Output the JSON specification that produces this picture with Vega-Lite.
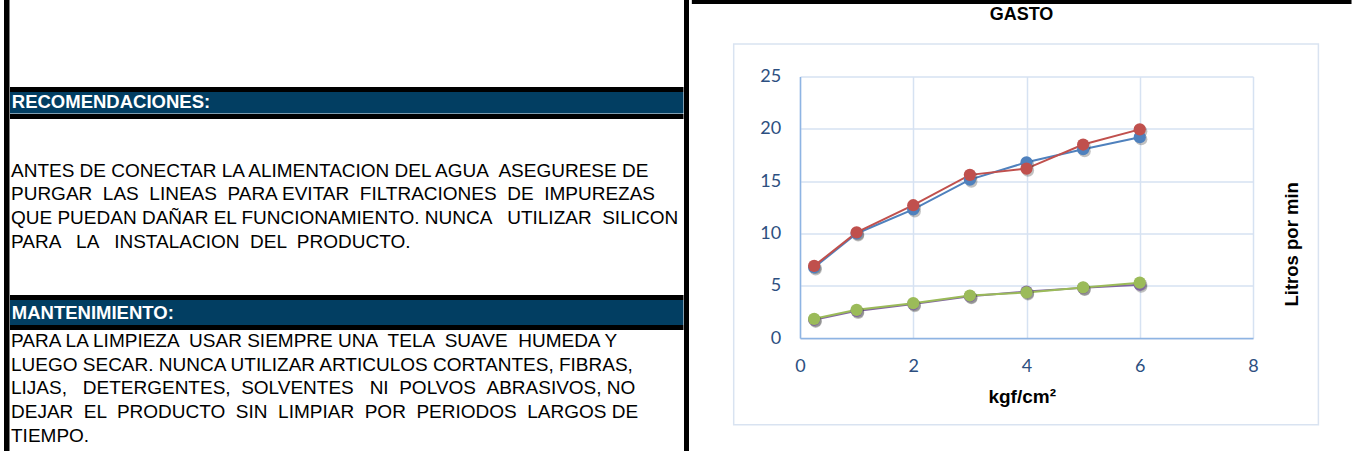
{
  "$schema": "https://vega.github.io/schema/vega-lite/v6.json",
  "background": "white",
  "padding": {"left": 4, "top": 0, "right": 0, "bottom": 0},
  "spacing": 0,
  "config": {
    "view": {"stroke": null},
    "font": "Liberation Sans",
    "axis": {
      "labelFont": "Lato",
      "labelFontSize": 18,
      "labelColor": "#2D4F80",
      "labelFlush": false,
      "titleFont": "Liberation Sans",
      "titleFontWeight": "bold",
      "titleColor": "#000000",
      "titleFontSize": 19,
      "ticks": false,
      "tickSize": 0,
      "domainColor": "#8EB4E3",
      "domainWidth": 1.5,
      "gridColor": "#D6E2F2",
      "gridWidth": 1.5
    }
  },
  "datasets": {
    "texto": [
      {"seccion": "H1", "linea": 1, "texto": "RECOMENDACIONES:"},
      {"seccion": "B", "linea": 1, "texto": "ANTES DE CONECTAR LA ALIMENTACION DEL AGUA \u00a0ASEGURESE DE"},
      {"seccion": "B", "linea": 2, "texto": "PURGAR \u00a0LAS \u00a0LINEAS \u00a0PARA EVITAR \u00a0FILTRACIONES \u00a0DE \u00a0IMPUREZAS"},
      {"seccion": "B", "linea": 3, "texto": "QUE PUEDAN DAÑAR EL FUNCIONAMIENTO. NUNCA \u00a0\u00a0UTILIZAR \u00a0SILICON"},
      {"seccion": "B", "linea": 4, "texto": "PARA \u00a0\u00a0LA \u00a0\u00a0INSTALACION \u00a0DEL \u00a0PRODUCTO."},
      {"seccion": "H2", "linea": 1, "texto": "MANTENIMIENTO:"},
      {"seccion": "C", "linea": 1, "texto": "PARA LA LIMPIEZA \u00a0USAR SIEMPRE UNA \u00a0TELA \u00a0SUAVE \u00a0HUMEDA Y"},
      {"seccion": "C", "linea": 2, "texto": "LUEGO SECAR. NUNCA UTILIZAR ARTICULOS CORTANTES, FIBRAS,"},
      {"seccion": "C", "linea": 3, "texto": "LIJAS, \u00a0\u00a0DETERGENTES, \u00a0SOLVENTES \u00a0\u00a0NI \u00a0POLVOS \u00a0ABRASIVOS, NO"},
      {"seccion": "C", "linea": 4, "texto": "DEJAR \u00a0EL \u00a0PRODUCTO \u00a0SIN \u00a0LIMPIAR \u00a0POR \u00a0PERIODOS \u00a0LARGOS DE"},
      {"seccion": "C", "linea": 5, "texto": "TIEMPO."}
    ],
    "gasto": [
      {"serie": "Serie 1", "presion": 0.25, "litros": 6.75},
      {"serie": "Serie 1", "presion": 1, "litros": 10.0},
      {"serie": "Serie 1", "presion": 2, "litros": 12.3},
      {"serie": "Serie 1", "presion": 3, "litros": 15.15},
      {"serie": "Serie 1", "presion": 4, "litros": 16.8},
      {"serie": "Serie 1", "presion": 5, "litros": 18.05},
      {"serie": "Serie 1", "presion": 6, "litros": 19.2},
      {"serie": "Serie 2", "presion": 0.25, "litros": 6.9},
      {"serie": "Serie 2", "presion": 1, "litros": 10.1},
      {"serie": "Serie 2", "presion": 2, "litros": 12.7},
      {"serie": "Serie 2", "presion": 3, "litros": 15.6},
      {"serie": "Serie 2", "presion": 4, "litros": 16.2},
      {"serie": "Serie 2", "presion": 5, "litros": 18.5},
      {"serie": "Serie 2", "presion": 6, "litros": 19.95},
      {"serie": "Serie 3", "presion": 0.25, "litros": 1.75},
      {"serie": "Serie 3", "presion": 1, "litros": 2.6},
      {"serie": "Serie 3", "presion": 2, "litros": 3.25},
      {"serie": "Serie 3", "presion": 3, "litros": 4.0},
      {"serie": "Serie 3", "presion": 4, "litros": 4.45},
      {"serie": "Serie 3", "presion": 5, "litros": 4.8},
      {"serie": "Serie 3", "presion": 6, "litros": 5.1},
      {"serie": "Serie 4", "presion": 0.25, "litros": 1.84},
      {"serie": "Serie 4", "presion": 1, "litros": 2.7},
      {"serie": "Serie 4", "presion": 2, "litros": 3.34},
      {"serie": "Serie 4", "presion": 3, "litros": 4.07},
      {"serie": "Serie 4", "presion": 4, "litros": 4.36},
      {"serie": "Serie 4", "presion": 5, "litros": 4.84},
      {"serie": "Serie 4", "presion": 6, "litros": 5.3}
    ]
  },
  "hconcat": [
    {
      "spacing": 0,
      "hconcat": [
        {
          "width": 5.5, "height": 451,
          "view": {"fill": "#000000"},
          "data": {"name": "texto"}, "transform": [{"filter": "datum.seccion === 'X'"}],
          "mark": {"type": "text"}, "encoding": {"text": {"field": "texto"}}
        },
        {
          "spacing": 0,
          "vconcat": [
            {
              "width": 673.5, "height": 87,
              "view": {"fill": "#FFFFFF"},
              "data": {"name": "texto"}, "transform": [{"filter": "datum.seccion === 'X'"}],
              "mark": {"type": "text"}, "encoding": {"text": {"field": "texto"}}
            },
            {
              "width": 673.5, "height": 5,
              "view": {"fill": "#000000"},
              "data": {"name": "texto"}, "transform": [{"filter": "datum.seccion === 'X'"}],
              "mark": {"type": "text"}, "encoding": {"text": {"field": "texto"}}
            },
            {
              "width": 673.5, "height": 21.5,
              "view": {"fill": "#023E62"},
              "data": {"name": "texto"},
              "transform": [{"filter": "datum.seccion === 'H1'"}],
              "mark": {"type": "text", "align": "left", "baseline": "middle", "dx": 1.8, "dy": -1.2, "fontSize": 18.5, "fontWeight": "bold", "fill": "white", "font": "Liberation Sans"},
              "encoding": {
                "x": {"datum": 0, "type": "quantitative", "scale": {"domain": [0, 1]}, "axis": null},
                "text": {"field": "texto"}
              }
            },
            {
              "width": 673.5, "height": 5,
              "view": {"fill": "#000000"},
              "data": {"name": "texto"}, "transform": [{"filter": "datum.seccion === 'X'"}],
              "mark": {"type": "text"}, "encoding": {"text": {"field": "texto"}}
            },
            {
              "width": 673.5, "height": 175.5,
              "view": {"fill": "#FFFFFF"},
              "data": {"name": "texto"},
              "transform": [{"filter": "datum.seccion === 'B'"}],
              "mark": {"type": "text", "align": "left", "baseline": "alphabetic", "dx": 1, "fontSize": 19, "fill": "#000000", "font": "Liberation Sans"},
              "encoding": {
                "x": {"datum": 0, "type": "quantitative", "scale": {"domain": [0, 1]}, "axis": null},
                "y": {"field": "linea", "type": "quantitative", "scale": {"domain": [-1.396, 5.917], "reverse": true, "nice": false, "zero": false}, "axis": null},
                "text": {"field": "texto"}
              }
            },
            {
              "width": 673.5, "height": 5,
              "view": {"fill": "#000000"},
              "data": {"name": "texto"}, "transform": [{"filter": "datum.seccion === 'X'"}],
              "mark": {"type": "text"}, "encoding": {"text": {"field": "texto"}}
            },
            {
              "width": 673.5, "height": 25,
              "view": {"fill": "#023E62"},
              "data": {"name": "texto"},
              "transform": [{"filter": "datum.seccion === 'H2'"}],
              "mark": {"type": "text", "align": "left", "baseline": "middle", "dx": 1.8, "dy": 0, "fontSize": 18.5, "fontWeight": "bold", "fill": "white", "font": "Liberation Sans"},
              "encoding": {
                "x": {"datum": 0, "type": "quantitative", "scale": {"domain": [0, 1]}, "axis": null},
                "text": {"field": "texto"}
              }
            },
            {
              "width": 673.5, "height": 5,
              "view": {"fill": "#000000"},
              "data": {"name": "texto"}, "transform": [{"filter": "datum.seccion === 'X'"}],
              "mark": {"type": "text"}, "encoding": {"text": {"field": "texto"}}
            },
            {
              "width": 673.5, "height": 122,
              "view": {"fill": "#FFFFFF"},
              "data": {"name": "texto"},
              "transform": [{"filter": "datum.seccion === 'C'"}],
              "mark": {"type": "text", "align": "left", "baseline": "alphabetic", "dx": 1, "fontSize": 19, "fill": "#000000", "font": "Liberation Sans"},
              "encoding": {
                "x": {"datum": 0, "type": "quantitative", "scale": {"domain": [0, 1]}, "axis": null},
                "y": {"field": "linea", "type": "quantitative", "scale": {"domain": [0.299, 5.419], "reverse": true, "nice": false, "zero": false}, "axis": null},
                "text": {"field": "texto"}
              }
            }
          ]
        },
        {
          "width": 5, "height": 451,
          "view": {"fill": "#000000"},
          "data": {"name": "texto"}, "transform": [{"filter": "datum.seccion === 'X'"}],
          "mark": {"type": "text"}, "encoding": {"text": {"field": "texto"}}
        }
      ]
    },
    {
      "spacing": 1.5,
      "vconcat": [
        {
          "width": 453,
          "height": 1,
          "data": {"values": [{}]},
          "mark": {"type": "rule", "stroke": "#000000", "strokeWidth": 4},
          "encoding": {
            "x": {"datum": -1.91, "type": "quantitative", "scale": {"domain": [0, 8], "nice": false, "zero": false}, "axis": null},
            "x2": {"datum": 9.74},
            "y": {"datum": -1, "type": "quantitative", "scale": {"domain": [0, 1], "nice": false, "zero": false}, "axis": null}
          }
        },
        {
          "width": 453,
          "height": 261.6,
          "title": {"text": "GASTO", "frame": "group", "anchor": "middle", "offset": 5.35, "baseline": "alphabetic", "dx": -5, "fontSize": 18, "fontWeight": "bold", "font": "Liberation Sans", "color": "#000000"},
          "resolve": {"axis": {"y": "independent"}},
          "layer": [
            {
              "data": {"values": [{}]},
              "mark": {"type": "rect", "fill": "transparent", "stroke": "#D9E3F1", "strokeWidth": 1.5},
              "encoding": {
                "x": {"datum": -1.171, "type": "quantitative", "scale": {"domain": [0, 8], "nice": false, "zero": false},
                      "axis": {"title": "kgf/cm²", "values": [0, 2, 4, 6, 8], "labelPadding": 19.5, "titlePadding": 12, "titleX": 221.7, "grid": true}},
                "x2": {"datum": 9.155},
                "y": {"datum": 28.1, "type": "quantitative", "scale": {"domain": [0, 25], "nice": false, "zero": false}, "axis": null},
                "y2": {"datum": -8.29}
              }
            },
            {
              "data": {"name": "gasto"},
              "mark": {"type": "line", "strokeWidth": 2},
              "encoding": {
                "x": {"field": "presion", "type": "quantitative",
                      "axis": {"title": "kgf/cm²", "values": [0, 2, 4, 6, 8], "labelPadding": 19.5, "titlePadding": 12, "titleX": 221.7, "grid": true}},
                "y": {"field": "litros", "type": "quantitative",
                      "axis": {"orient": "left", "title": null, "values": [0, 5, 10, 15, 20, 25], "labelPadding": 19.3, "grid": true}},
                "color": {"field": "serie", "type": "nominal",
                          "scale": {"domain": ["Serie 1", "Serie 2", "Serie 3", "Serie 4"], "range": ["#4F81BD", "#C0504D", "#8064A2", "#9BBB59"]},
                          "legend": null}
              }
            },
            {
              "data": {"name": "gasto"},
              "mark": {"type": "circle", "size": 150, "color": "#333333", "opacity": 0.3, "xOffset": 1.5, "yOffset": 2},
              "encoding": {
                "x": {"field": "presion", "type": "quantitative",
                      "axis": {"title": "kgf/cm²", "values": [0, 2, 4, 6, 8], "labelPadding": 19.5, "titlePadding": 12, "titleX": 221.7, "grid": true}},
                "y": {"field": "litros", "type": "quantitative", "axis": null}
              }
            },
            {
              "data": {"name": "gasto"},
              "mark": {"type": "circle", "size": 150, "opacity": 1},
              "encoding": {
                "x": {"field": "presion", "type": "quantitative",
                      "axis": {"title": "kgf/cm²", "values": [0, 2, 4, 6, 8], "labelPadding": 19.5, "titlePadding": 12, "titleX": 221.7, "grid": true}},
                "y": {"field": "litros", "type": "quantitative",
                      "axis": {"orient": "right", "title": "Litros por min", "labels": false, "grid": false, "domain": false, "ticks": false,
                               "titleAngle": 270, "titleBaseline": "bottom", "titleAlign": "center", "titlePadding": 48.4, "titleY": 167.3, "titleFontSize": 18.5}},
                "color": {"field": "serie", "type": "nominal",
                          "scale": {"domain": ["Serie 1", "Serie 2", "Serie 3", "Serie 4"], "range": ["#4F81BD", "#C0504D", "#8064A2", "#9BBB59"]},
                          "legend": null}
              }
            }
          ]
        }
      ]
    }
  ]
}
